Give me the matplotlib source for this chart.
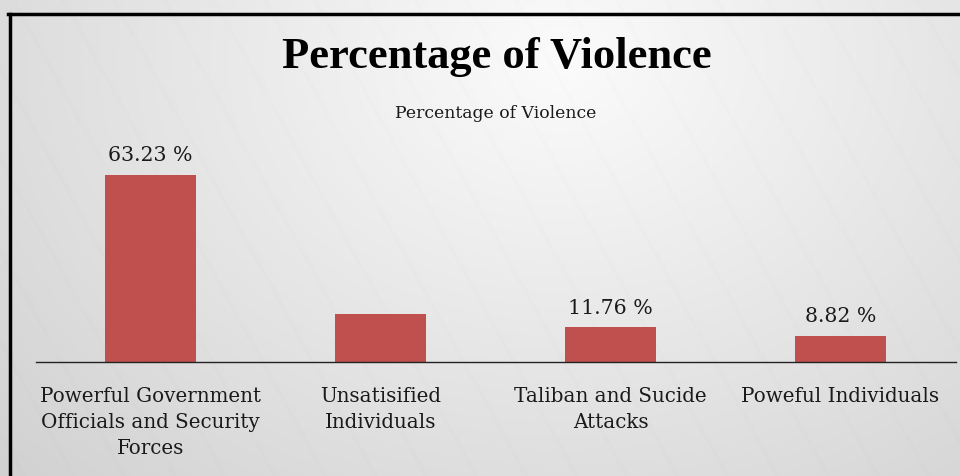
import numpy as np
import matplotlib
matplotlib.use("Agg")
import matplotlib.pyplot as plt
from matplotlib.lines import Line2D

categories = ["Powerful Government\nOfficials and Security\nForces",
              "Unsatisified\nIndividuals",
              "Taliban and Sucide\nAttacks",
              "Poweful Individuals"]
values = [63.23, 16.19, 11.76, 8.82]
value_labels = ["63.23 %", "", "11.76 %", "8.82 %"]
title = "Percentage of Violence"
subtitle = "Percentage of Violence"

W, H = 960, 477
fig = plt.figure(figsize=(W / 100, H / 100), dpi=100)

# background gradient with faint diagonal stripes
bg = fig.add_axes([0, 0, 1, 1])
yy, xx = np.mgrid[0:H, 0:W]
d = np.sqrt(((xx - 560) / 700.0) ** 2 + ((yy - 60) / 550.0) ** 2)
base = 0.985 - 0.15 * np.clip(d, 0, 1.2)
stripes = 0.007 * (np.sin((xx - yy * 0.55) / 8.0) > 0.95)
img = np.clip(base - stripes, 0, 1)
bg.imshow(np.dstack([img, img, img]), extent=[0, 1, 0, 1], aspect="auto", origin="upper")
bg.set_axis_off()

# frame lines
fig.add_artist(Line2D([8 / W, 1], [1 - 15 / H, 1 - 15 / H], color="black", lw=2.5, transform=fig.transFigure))
fig.add_artist(Line2D([9.5 / W, 9.5 / W], [0, 1 - 15 / H], color="black", lw=2.5, transform=fig.transFigure))

lab_font = "DejaVu Serif"
ax = fig.add_axes([35.5 / W, (H - 363) / H, 920 / W, 207 / H])
ax.patch.set_alpha(0)
x = np.arange(len(categories))
bars = ax.bar(x, values, width=0.395, color="#C0504D")
ax.set_xlim(-0.5, len(categories) - 0.5)
ax.set_ylim(0, 70)
for s in ["top", "right", "left"]:
    ax.spines[s].set_visible(False)
ax.spines["bottom"].set_color("#222222")
ax.spines["bottom"].set_linewidth(1.0)
ax.set_yticks([])
ax.set_xticks(x)
ax.set_xticklabels(categories, family=lab_font, fontsize=14.3, color="#1a1a1a",
                   linespacing=1.48)
ax.tick_params(axis="x", length=0, pad=17)
for xi, v, lab in zip(x, values, value_labels):
    if lab:
        ax.annotate(lab, (xi, v), xytext=(0, 10.5), textcoords="offset points",
                    ha="center", va="baseline", family=lab_font, fontsize=14.8, color="#1a1a1a")

fig.text(497 / W, 1 - 57 / H, title, ha="center", va="center", family="Liberation Serif",
         fontweight="bold", fontsize=32, color="black")
fig.text(496 / W, 1 - 113 / H, subtitle, ha="center", va="center", family=lab_font,
         fontsize=12.4, color="#1a1a1a")

fig.savefig("out.png", dpi=100)
